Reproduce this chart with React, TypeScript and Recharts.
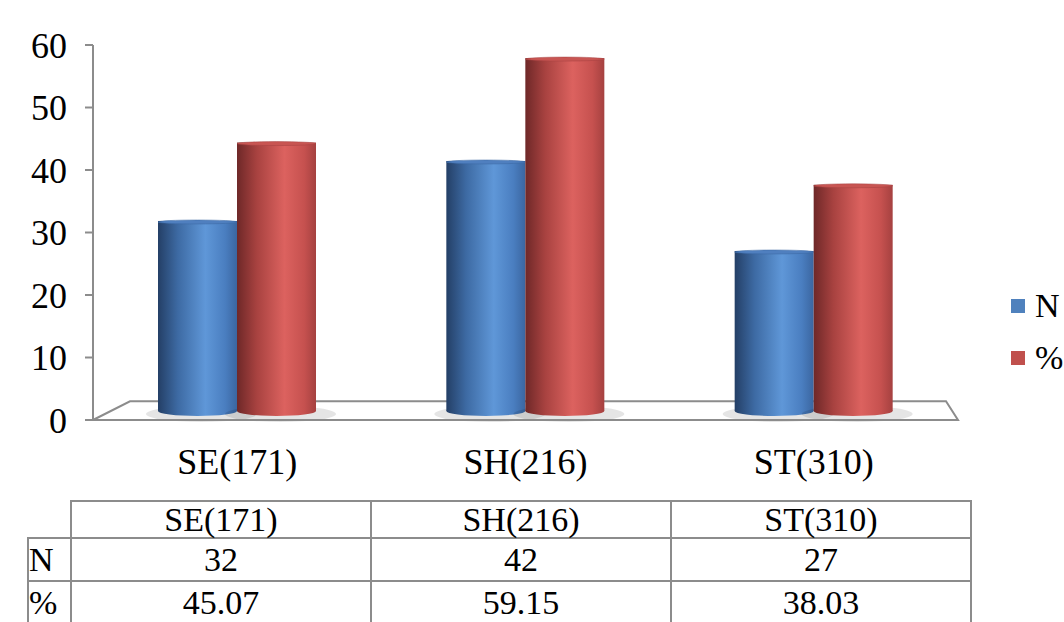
import React from "react";
import {
  ComposedChart,
  Bar,
  Line,
  XAxis,
  YAxis,
  Legend,
  ReferenceArea,
} from "recharts";

const categories = ["SE(171)", "SH(216)", "ST(310)"];
const countValues = [32, 42, 27];
const percentValues = [45.07, 59.15, 38.03];
const yTicks = [0, 10, 20, 30, 40, 50, 60];
const percentLabels = ["45.07", "59.15", "38.03"];

const data = categories.map((name, i) => ({
  name,
  N: countValues[i],
  pct: percentValues[i],
}));

const FONT = "Liberation Serif";
const GRID = "#8c8c8c";

// the bars sit on the back wall of the 3D box, which has its own (slightly smaller) scale
const BACK_DOMAIN = [-1.17, 61.33];

const Cylinder = (props: any) => {
  const { x, y, width, height, gradId, top, base } = props;
  if (width == null || height == null || height <= 0) return null;
  const rx = width / 2;
  const cx = x + rx;
  const bottom = y + height;
  return (
    <g>
      <ellipse cx={cx + 4} cy={bottom + 1} rx={rx + 16} ry={8} fill="#000" opacity={0.1} />
      <ellipse cx={cx} cy={bottom - 2} rx={rx} ry={5} fill={`url(#${gradId})`} />
      <rect x={x} y={y} width={width} height={height - 2} fill={`url(#${gradId})`} />
      <ellipse cx={cx} cy={y + 1} rx={rx} ry={2} fill={top} stroke={base} strokeWidth={0.5} />
    </g>
  );
};

const Floor = (props: any) => {
  const { x, y, width, height } = props;
  const pts = [
    [x, y + height],
    [x + 37, y],
    [x + width - 12, y],
    [x + width, y + height],
  ]
    .map((p) => p.join(","))
    .join(" ");
  return <polygon points={pts} fill="#fff" stroke={GRID} strokeWidth={2} />;
};

const LegendBox = () => (
  <div style={{ fontFamily: FONT, fontSize: 34, color: "#000", lineHeight: 1 }}>
    {[
      { label: "N", color: "#4f81bd" },
      { label: "%", color: "#c0504d" },
    ].map((item) => (
      <div key={item.label} style={{ display: "flex", alignItems: "center", height: 52 }}>
        <span style={{ width: 14, height: 14, background: item.color, marginRight: 10, display: "inline-block" }} />
        <span>{item.label}</span>
      </div>
    ))}
  </div>
);

const cell: React.CSSProperties = {
  border: `2px solid ${GRID}`,
  textAlign: "center",
  padding: 0,
  fontFamily: FONT,
  fontSize: 34,
  lineHeight: 1,
};

export default function App() {
  return (
    <div style={{ position: "absolute", left: 0, top: 0, width: 1064, height: 622, background: "#fff", overflow: "hidden" }}>
      <ComposedChart
        width={1064}
        height={495}
        data={data}
        margin={{ top: 45, right: 46, bottom: 0, left: 0 }}
        barCategoryGap={65}
        barGap={0}
      >
        <defs>
          <linearGradient id="gBlue" x1="0" y1="0" x2="1" y2="0">
            <stop offset="0%" stopColor="#243f66" />
            <stop offset="25%" stopColor="#3d6aa3" />
            <stop offset="60%" stopColor="#5f97d8" />
            <stop offset="85%" stopColor="#4a7ec0" />
            <stop offset="100%" stopColor="#3b66a0" />
          </linearGradient>
          <linearGradient id="gRed" x1="0" y1="0" x2="1" y2="0">
            <stop offset="0%" stopColor="#6e2828" />
            <stop offset="25%" stopColor="#a84240" />
            <stop offset="60%" stopColor="#dc625f" />
            <stop offset="85%" stopColor="#c6514f" />
            <stop offset="100%" stopColor="#a54140" />
          </linearGradient>
        </defs>
        <YAxis
          yAxisId="front"
          domain={[0, 60]}
          ticks={yTicks}
          width={93}
          tickSize={8}
          tickMargin={18}
          axisLine={{ stroke: GRID, strokeWidth: 2 }}
          tickLine={{ stroke: GRID, strokeWidth: 2 }}
          tick={{ fill: "#000", fontSize: 36, fontFamily: FONT }}
        />
        <YAxis yAxisId="back" orientation="right" width={0} domain={BACK_DOMAIN} hide />
        <XAxis
          dataKey="name"
          height={75}
          tickLine={false}
          tickMargin={22}
          axisLine={{ stroke: GRID, strokeWidth: 2 }}
          tick={{ fill: "#000", fontSize: 36, fontFamily: FONT }}
        />
        <XAxis
          xAxisId="b"
          type="number"
          domain={[0, 3]}
          ticks={[0, 1, 2, 3]}
          height={0}
          axisLine={false}
          tickSize={8}
          tickLine={{ stroke: GRID, strokeWidth: 2 }}
          tick={false}
        />
        <ReferenceArea yAxisId="front" y1={0} y2={3} ifOverflow="visible" shape={<Floor />} />
        <Legend
          layout="vertical"
          align="right"
          verticalAlign="top"
          content={<LegendBox />}
          wrapperStyle={{ position: "absolute", left: 1011, top: 280, width: 60 }}
        />
        {/* keeps the front axis tied to the data so its scale is built */}
        <Line
          yAxisId="front"
          dataKey="N"
          stroke="transparent"
          dot={false}
          activeDot={false}
          legendType="none"
          isAnimationActive={false}
        />
        <Bar
          dataKey="N"
          name="N"
          yAxisId="back"
          isAnimationActive={false}
          shape={(p: any) => <Cylinder {...p} gradId="gBlue" top="#4f7fbf" base="#3b66a0" />}
        />
        <Bar
          dataKey="pct"
          name="%"
          yAxisId="back"
          isAnimationActive={false}
          shape={(p: any) => <Cylinder {...p} gradId="gRed" top="#c85552" base="#a54140" />}
        />
      </ComposedChart>
      <table
        style={{
          position: "absolute",
          left: 27,
          top: 500,
          borderCollapse: "collapse",
          tableLayout: "fixed",
        }}
      >
        <colgroup>
          <col style={{ width: 43 }} />
          <col style={{ width: 300 }} />
          <col style={{ width: 300 }} />
          <col style={{ width: 300 }} />
        </colgroup>
        <tbody>
          <tr style={{ height: 37 }}>
            <td style={{ ...cell, border: "none", borderRight: `2px solid ${GRID}`, borderBottom: `2px solid ${GRID}` }} />
            {categories.map((c) => (
              <td key={c} style={cell}>{c}</td>
            ))}
          </tr>
          <tr style={{ height: 43 }}>
            <td style={{ ...cell, textAlign: "left" }}>N</td>
            {countValues.map((v, i) => (
              <td key={i} style={cell}>{v}</td>
            ))}
          </tr>
          <tr style={{ height: 43 }}>
            <td style={{ ...cell, textAlign: "left" }}>%</td>
            {percentLabels.map((v, i) => (
              <td key={i} style={cell}>{v}</td>
            ))}
          </tr>
        </tbody>
      </table>
    </div>
  );
}
